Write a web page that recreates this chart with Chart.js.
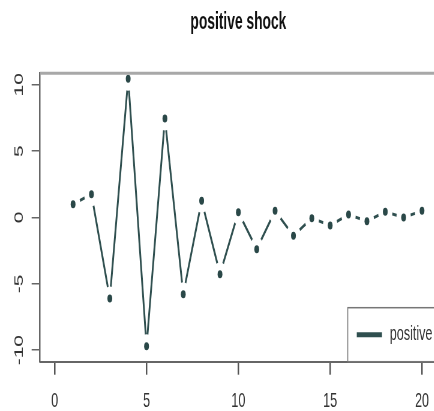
<!DOCTYPE html>
<html>
<head>
<meta charset="utf-8">
<script src="https://cdn.jsdelivr.net/npm/chart.js@4.4.1/dist/chart.umd.min.js"></script>
<style>
html, body { margin: 0; padding: 0; background: #fff; overflow: hidden; }
/* the plot is laid out wide and squeezed sideways */
#wrap { position: absolute; left: 0; top: 0; width: 750px; height: 411px; transform: scaleX(0.6); transform-origin: 0 0; }
</style>
</head>
<body>
<div id="wrap"><canvas id="myChart"></canvas></div>
<script>
const chartTitle = 'positive shock';
const seriesName = 'positive';
const steps = [1, 2, 3, 4, 5, 6, 7, 8, 9, 10, 11, 12, 13, 14, 15, 16, 17, 18, 19, 20];
const response = [1.0, 1.76, -6.1, 10.45, -9.7, 7.47, -5.78, 1.26, -4.27, 0.4,
                  -2.39, 0.5, -1.38, -0.05, -0.6, 0.22, -0.28, 0.43, 0.0, 0.5];
const xTicks = [0, 5, 10, 15, 20];
const yTicks = [-10, -5, 0, 5, 10];

const lineColor = '#2f4f4f';
const fontFamily = '"Liberation Sans", Arial, Helvetica, sans-serif';
const points = steps.map((s, i) => ({ x: s, y: response[i] }));

// top and right edges of the plot box
const frame = {
    id: 'frame',
    afterDatasetsDraw(chart) {
        const { ctx, chartArea: a } = chart;
        ctx.save();
        ctx.strokeStyle = '#a8a8a8';
        ctx.lineWidth = 3;
        ctx.beginPath();
        ctx.moveTo(a.left, a.top);
        ctx.lineTo(a.right, a.top);
        ctx.lineTo(a.right, a.bottom);
        ctx.stroke();
        ctx.restore();
    }
};

// boxed legend in the bottom right corner of the plot
const boxLegend = {
    id: 'boxLegend',
    afterDraw(chart) {
        const { ctx, chartArea: a } = chart;
        const ds = chart.data.datasets[0];
        ctx.save();
        ctx.font = '21px ' + fontFamily;
        const tw = ctx.measureText(ds.label).width;
        const right = a.right, bottom = a.bottom, top = bottom - 54;
        const textX = right - 7 - tw;
        const lineEnd = textX - 13, lineStart = lineEnd - 42;
        const left = lineStart - 15;
        const midY = top + 27;
        ctx.fillStyle = '#fff';
        ctx.fillRect(left, top, right - left, bottom - top);
        ctx.strokeStyle = '#777';
        ctx.lineWidth = 1.5;
        ctx.strokeRect(left, top, right - left, bottom - top);
        ctx.strokeStyle = ds.borderColor;
        ctx.lineWidth = 5;
        ctx.beginPath();
        ctx.moveTo(lineStart, midY);
        ctx.lineTo(lineEnd, midY);
        ctx.stroke();
        ctx.fillStyle = '#333';
        ctx.textBaseline = 'middle';
        ctx.fillText(ds.label, textX, midY);
        ctx.restore();
    }
};

const ctx = document.getElementById('myChart').getContext('2d');
const myChart = new Chart(ctx, {
    type: 'line',
    data: {
        datasets: [
            // connecting line
            { label: seriesName, data: points, borderColor: lineColor, borderWidth: 3,
              pointRadius: 0, tension: 0, fill: false, order: 3 },
            // white halo so the line stops short of each point
            { label: 'gap', data: points, showLine: false, pointRadius: 12,
              pointBackgroundColor: '#fff', pointBorderWidth: 0, order: 2 },
            // the points themselves
            { label: 'dots', data: points, showLine: false, pointRadius: 4,
              pointBackgroundColor: '#2a4848', pointBorderWidth: 0, order: 1 }
        ]
    },
    options: {
        responsive: true,
        maintainAspectRatio: false,
        animation: false,
        events: [],
        layout: { padding: { left: 0, right: 22.2, top: 0, bottom: 0 } },
        scales: {
            x: {
                type: 'linear',
                min: -0.8,
                max: 20.8,
                afterBuildTicks: s => { s.ticks = xTicks.map(v => ({ value: v })); },
                afterFit: s => { s.height = 49.3; },
                grid: { drawOnChartArea: false, drawTicks: true, tickLength: 13, color: '#555', lineWidth: 2.5 },
                border: { display: true, color: '#666', width: 2 },
                ticks: { padding: 14.2, color: '#333', font: { family: fontFamily, size: 21 },
                         minRotation: 0, maxRotation: 0, autoSkip: false }
            },
            y: {
                type: 'linear',
                min: -10.87,
                max: 10.87,
                afterBuildTicks: s => { s.ticks = yTicks.map(v => ({ value: v })); },
                afterFit: s => { s.width = 66.7; },
                grid: { drawOnChartArea: false, drawTicks: true, tickLength: 14, color: '#666', lineWidth: 1.5 },
                border: { display: true, color: '#666', width: 2.5 },
                ticks: { padding: 5.8, color: '#333', font: { family: fontFamily, size: 21 },
                         minRotation: 90, maxRotation: 90, crossAlign: 'center', autoSkip: false }
            }
        },
        plugins: {
            legend: { display: false },
            tooltip: { enabled: false },
            title: {
                display: true,
                text: chartTitle,
                fullSize: false,
                color: '#111',
                font: { family: fontFamily, size: 23, weight: 'bold' },
                padding: { top: 9, bottom: 36.7 }
            }
        }
    },
    plugins: [frame, boxLegend]
});
</script>
</body>
</html>
